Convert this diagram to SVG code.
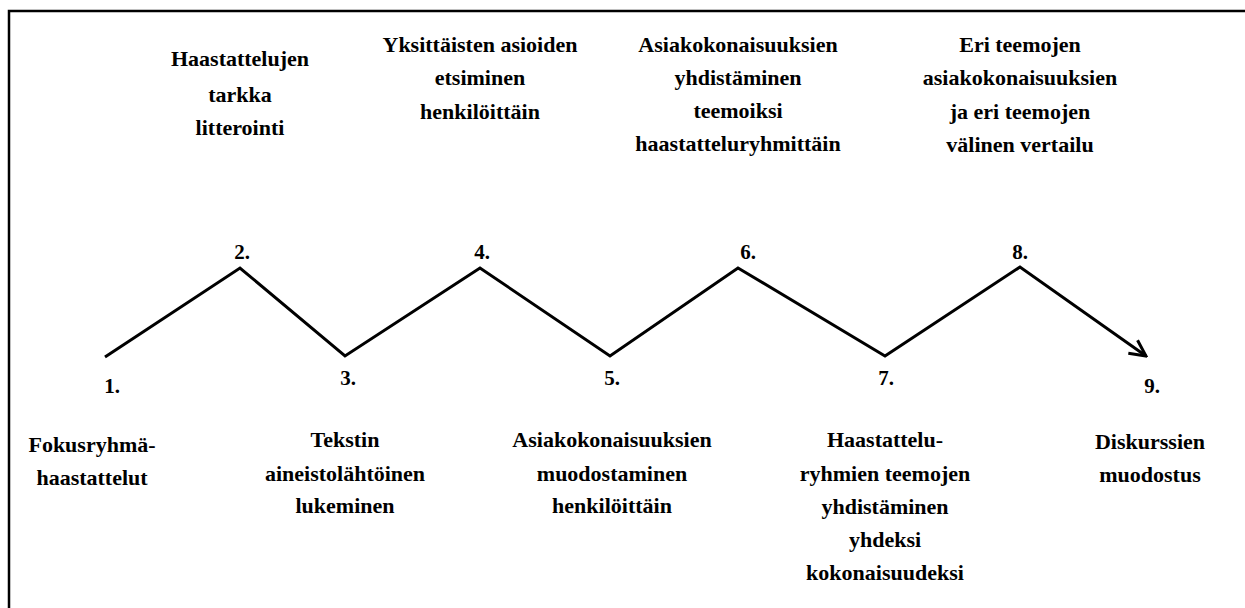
<svg xmlns="http://www.w3.org/2000/svg" width="1245" height="608" viewBox="0 0 1245 608">
<defs>
<style>
text{font-family:'Liberation Serif','Times New Roman','DejaVu Serif','Noto Serif',serif;font-weight:bold;fill:#000;text-anchor:middle}
.t{font-size:22px}
.n{font-size:21px}
.frame{fill:none;stroke:#000;stroke-width:2.5}
.zig{fill:none;stroke:#000;stroke-width:3;stroke-linejoin:miter}
</style>
<marker id="arr" viewBox="0 0 20 20" refX="18" refY="10" markerWidth="20" markerHeight="20" markerUnits="userSpaceOnUse" orient="auto">
<path d="M2,2 L18,10 L2,18" fill="none" stroke="#000" stroke-width="3"/>
</marker>
</defs>
<rect width="1245" height="608" fill="#fff"/>
<path class="frame" d="M9,608 L9,11 L1245,11"/>
<g id="connectors">
<polyline class="zig" points="105,357 240,268 345,356 480,268 610,356 738,268 885,356 1020,267 1146,356" marker-end="url(#arr)"/>
</g>
<g id="n1"><text class="n" x="112" y="393">1.</text>
<text class="t" x="92" y="452">Fokusryhmä-</text><text class="t" x="92" y="485">haastattelut</text></g>
<g id="n2"><text class="n" x="242" y="259">2.</text>
<text class="t" x="240" y="66">Haastattelujen</text><text class="t" x="240" y="102">tarkka</text><text class="t" x="240" y="135">litterointi</text></g>
<g id="n3"><text class="n" x="348" y="385">3.</text>
<text class="t" x="345" y="447">Tekstin</text><text class="t" x="345" y="481">aineistolähtöinen</text><text class="t" x="345" y="513">lukeminen</text></g>
<g id="n4"><text class="n" x="482" y="259">4.</text>
<text class="t" x="480" y="52">Yksittäisten asioiden</text><text class="t" x="480" y="85">etsiminen</text><text class="t" x="480" y="119">henkilöittäin</text></g>
<g id="n5"><text class="n" x="612" y="385">5.</text>
<text class="t" x="612" y="447">Asiakokonaisuuksien</text><text class="t" x="612" y="481">muodostaminen</text><text class="t" x="612" y="513">henkilöittäin</text></g>
<g id="n6"><text class="n" x="748" y="259">6.</text>
<text class="t" x="738" y="52">Asiakokonaisuuksien</text><text class="t" x="738" y="85">yhdistäminen</text><text class="t" x="738" y="118">teemoiksi</text><text class="t" x="738" y="151">haastatteluryhmittäin</text></g>
<g id="n7"><text class="n" x="886" y="385">7.</text>
<text class="t" x="885" y="447">Haastattelu-</text><text class="t" x="885" y="481">ryhmien teemojen</text><text class="t" x="885" y="514">yhdistäminen</text><text class="t" x="885" y="547">yhdeksi</text><text class="t" x="885" y="580">kokonaisuudeksi</text></g>
<g id="n8"><text class="n" x="1020" y="259">8.</text>
<text class="t" x="1020" y="52">Eri teemojen</text><text class="t" x="1020" y="85">asiakokonaisuuksien</text><text class="t" x="1020" y="119">ja eri teemojen</text><text class="t" x="1020" y="152">välinen vertailu</text></g>
<g id="n9"><text class="n" x="1152" y="393">9.</text>
<text class="t" x="1150" y="449">Diskurssien</text><text class="t" x="1150" y="482">muodostus</text></g>
</svg>
